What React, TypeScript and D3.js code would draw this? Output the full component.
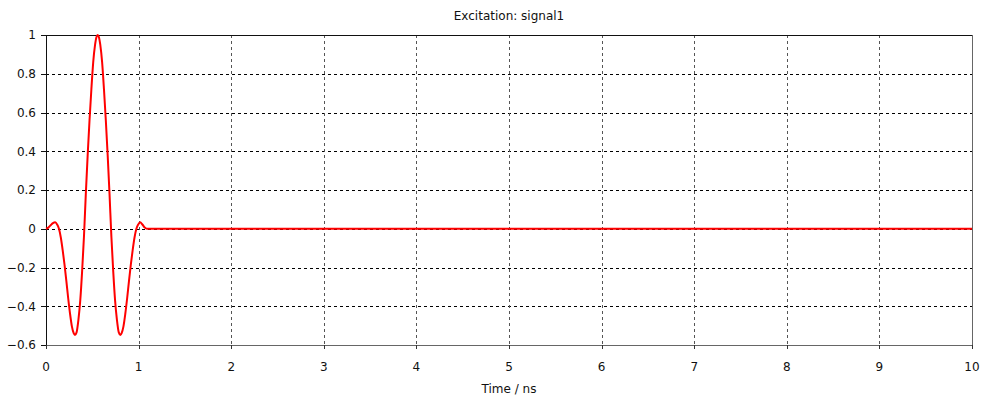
import * as d3 from "d3";

const WIDTH = 984;
const HEIGHT = 398;
const M = { left: 46, right: 12, top: 35, bottom: 53 };

const title = "Excitation: signal1";
const xLabel = "Time / ns";
const xTicks = [0, 1, 2, 3, 4, 5, 6, 7, 8, 9, 10];
const yTicks = [-0.6, -0.4, -0.2, 0, 0.2, 0.4, 0.6, 0.8, 1];

// time samples (ns) and signal amplitude
const times = [
  0, 0.025, 0.05, 0.075, 0.1, 0.12, 0.14, 0.16, 0.18, 0.2, 0.22, 0.24, 0.26, 0.28, 0.3, 0.313,
  0.33, 0.35, 0.37, 0.39, 0.41, 0.43, 0.45, 0.47, 0.49, 0.51, 0.53, 0.545, 0.558,
  0.571, 0.586, 0.606, 0.626, 0.646, 0.666, 0.686, 0.706, 0.726, 0.746, 0.766, 0.786, 0.803,
  0.816, 0.836, 0.856, 0.876, 0.896, 0.916, 0.936, 0.956, 0.976, 0.996, 1.016, 1.041, 1.066,
  1.09, 10,
];
const signal = [
  0, 0.006, 0.018, 0.029, 0.033, 0.022, 0, -0.045, -0.11, -0.185, -0.27, -0.36, -0.44, -0.505,
  -0.54, -0.548, -0.535, -0.47, -0.37, -0.22, -0.04, 0.18, 0.38, 0.56, 0.72, 0.86, 0.95, 0.99,
  1.0, 0.99, 0.95, 0.86, 0.72, 0.56, 0.38, 0.18, -0.04, -0.22, -0.37, -0.47, -0.535, -0.548,
  -0.54, -0.505, -0.44, -0.36, -0.27, -0.185, -0.11, -0.045, 0, 0.022, 0.033, 0.022, 0.006,
  0, 0,
];

const FONT = "DejaVu Sans";
const FS = 12;

export default function App() {
  const x = d3.scaleLinear().domain([0, 10]).range([M.left, WIDTH - M.right]);
  const y = d3.scaleLinear().domain([-0.6, 1]).range([HEIGHT - M.bottom, M.top]);

  const pts = times.map((t, i) => [t, signal[i]] as [number, number]);
  const line = d3
    .line<[number, number]>()
    .x((d) => x(d[0]))
    .y((d) => y(d[1]))
    .curve(d3.curveMonotoneX);

  const x0 = M.left;
  const x1 = WIDTH - M.right;
  const y0 = HEIGHT - M.bottom;
  const y1 = M.top;

  return (
    <svg
      width={WIDTH}
      height={HEIGHT}
      style={{ position: "absolute", left: 0, top: 0, background: "#fff" }}
      fontFamily={FONT}
    >
      {/* grid */}
      <g>
        {yTicks.slice(1, -1).map((v) => (
          <line
            key={"gy" + v}
            x1={x0}
            x2={x1}
            y1={Math.round(y(v)) + 0.5}
            y2={Math.round(y(v)) + 0.5}
            stroke="#000"
            strokeDasharray="3,3"
          />
        ))}
        {xTicks.slice(1, -1).map((v) => (
          <line
            key={"gx" + v}
            x1={Math.round(x(v)) + 0.5}
            x2={Math.round(x(v)) + 0.5}
            y1={y1}
            y2={y0}
            stroke="#555"
            strokeDasharray="3,3"
          />
        ))}
      </g>

      {/* frame */}
      <line x1={x0} x2={x1} y1={y1 + 0.5} y2={y1 + 0.5} stroke="#111" />
      <line x1={x1 + 0.5} x2={x1 + 0.5} y1={y1} y2={y0 + 4} stroke="#666" />
      <line x1={x0 + 0.5} x2={x0 + 0.5} y1={y1} y2={y0} stroke="#111" />
      <line x1={x0 - 5} x2={x1} y1={y0 + 0.5} y2={y0 + 0.5} stroke="#666" />

      {/* y ticks */}
      {yTicks.map((v) => (
        <g key={"ty" + v}>
          <line
            x1={x0 - 5}
            x2={x0}
            y1={Math.round(y(v)) + 0.5}
            y2={Math.round(y(v)) + 0.5}
            stroke="#111"
          />
          <text
            x={x0 - 10}
            y={y(v)}
            dy="0.36em"
            textAnchor="end"
            fontSize={FS}
            fill="#111"
          >
            {d3.format("")(v)}
          </text>
        </g>
      ))}

      {/* x ticks */}
      {xTicks.map((v) => (
        <g key={"tx" + v}>
          <line
            x1={Math.round(x(v)) + 0.5}
            x2={Math.round(x(v)) + 0.5}
            y1={y0}
            y2={y0 + 4}
            stroke="#333"
          />
          <text x={x(v)} y={y0 + 26} textAnchor="middle" fontSize={FS} fill="#111">
            {v}
          </text>
        </g>
      ))}

      <path d={line(pts) ?? ""} fill="none" stroke="#ff0000" strokeWidth={2} />

      <text x={(x0 + x1) / 2} y={20} textAnchor="middle" fontSize={FS} fill="#111">
        {title}
      </text>
      <text x={(x0 + x1) / 2} y={393} textAnchor="middle" fontSize={FS} fill="#111">
        {xLabel}
      </text>
    </svg>
  );
}
